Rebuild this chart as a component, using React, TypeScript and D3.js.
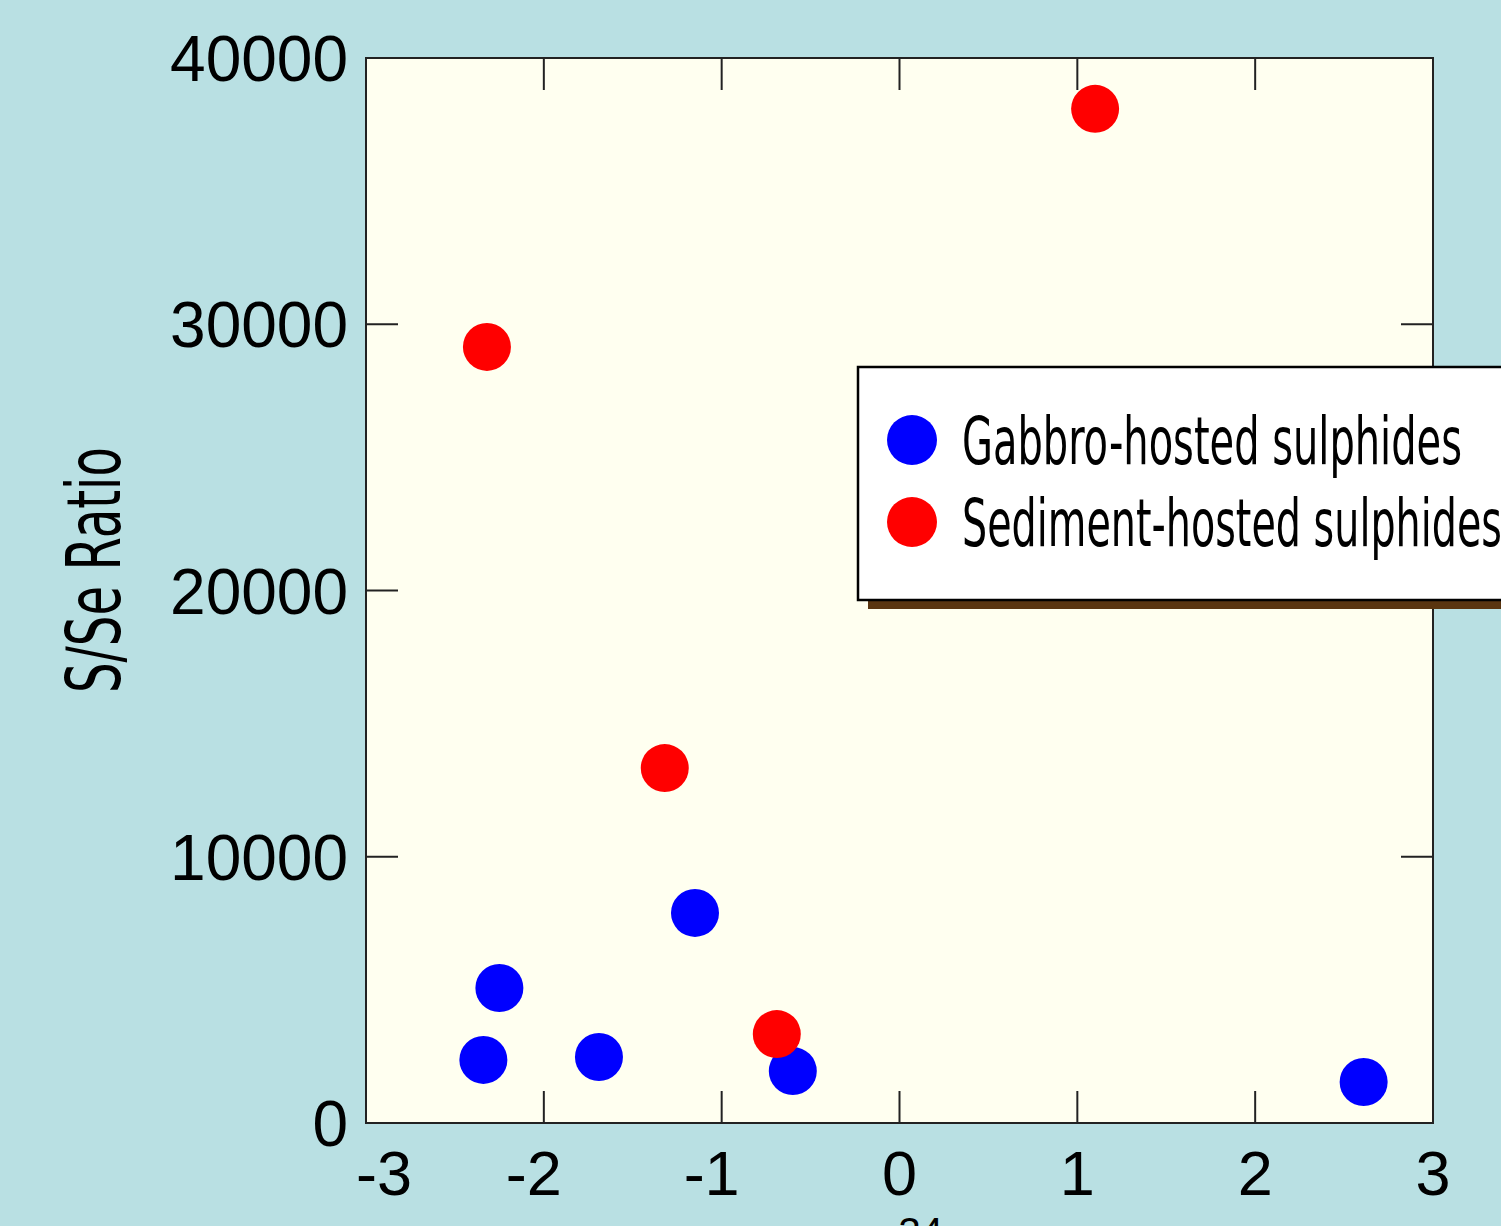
import React, { useRef, useEffect } from "react";
import * as d3 from "d3";

// values
const gabbroX = [-2.34, -2.25, -1.69, -1.15, -0.6, 2.61];
const gabbroY = [2370, 5070, 2480, 7890, 1950, 1540];
const sedimentX = [-2.32, -1.32, -0.69, 1.1];
const sedimentY = [29150, 13330, 3340, 38090];
const xTicks = [-3, -2, -1, 0, 1, 2, 3];
const yTicks = [0, 10000, 20000, 30000, 40000];
const legendLabels = ["Gabbro-hosted sulphides", "Sediment-hosted sulphides"];
const legendColours = ["#0000ff", "#ff0000"];

const App = () => {
    const svgRef = useRef<SVGSVGElement>(null);

    useEffect(() => {
        if (!svgRef.current) return;
        const width = 1501;
        const height = 1226;
        const margin = { top: 58, right: 68, bottom: 103, left: 366 };

        const svg = d3.select(svgRef.current);
        svg.selectAll("*").remove();
        svg.attr("width", width).attr("height", height);

        svg.append("rect")
            .attr("width", width)
            .attr("height", height)
            .attr("fill", "#b9e0e3");

        const x = d3.scaleLinear().domain([-3, 3]).range([margin.left, width - margin.right]);
        const y = d3.scaleLinear().domain([0, 40000]).range([height - margin.bottom, margin.top]);

        const [x0, x1] = x.range();
        const [y0, y1] = y.range();

        svg.append("rect")
            .attr("x", x0)
            .attr("y", y1)
            .attr("width", x1 - x0)
            .attr("height", y0 - y1)
            .attr("fill", "#fffff0");

        const tickLen = 32;
        const frame = svg.append("g").attr("stroke", "#222").attr("stroke-width", 2);

        xTicks.slice(1, -1).forEach(t => {
            frame.append("line").attr("x1", x(t)).attr("x2", x(t)).attr("y1", y0).attr("y2", y0 - tickLen);
            frame.append("line").attr("x1", x(t)).attr("x2", x(t)).attr("y1", y1).attr("y2", y1 + tickLen);
        });
        yTicks.slice(1, -1).forEach(t => {
            frame.append("line").attr("x1", x0).attr("x2", x0 + tickLen).attr("y1", y(t)).attr("y2", y(t));
            frame.append("line").attr("x1", x1).attr("x2", x1 - tickLen).attr("y1", y(t)).attr("y2", y(t));
        });

        frame.append("rect")
            .attr("x", x0)
            .attr("y", y1)
            .attr("width", x1 - x0)
            .attr("height", y0 - y1)
            .attr("fill", "none");

        // tick labels
        svg.append("g")
            .selectAll("text")
            .data(yTicks)
            .enter().append("text")
            .attr("x", x0 - 18)
            .attr("y", d => y(d))
            .attr("dy", "0.36em")
            .attr("text-anchor", "end")
            .style("font-family", "'Liberation Sans', Arial, sans-serif")
            .style("font-size", "64px")
            .style("fill", "black")
            .text(d => d);

        svg.append("g")
            .selectAll("text")
            .data(xTicks)
            .enter().append("text")
            .attr("x", (d, i) => i === 0 ? x(d) + 18 : x(d) + (d < 0 ? -10 : 0))
            .attr("y", y0 + 72)
            .attr("text-anchor", "middle")
            .style("font-family", "'Liberation Sans', Arial, sans-serif")
            .style("font-size", "63px")
            .style("fill", "black")
            .text(d => d);

        // axis titles
        svg.append("text")
            .attr("transform", `translate(120, 570) rotate(-90)`)
            .attr("text-anchor", "middle")
            .attr("textLength", 246)
            .attr("lengthAdjust", "spacingAndGlyphs")
            .style("font-family", "'DejaVu Sans Condensed', 'DejaVu Sans', sans-serif")
            .style("font-stretch", "condensed")
            .style("font-size", "74px")
            .style("fill", "black")
            .text("S/Se Ratio");

        // x title: only its top edge shows at the bottom of the picture
        const xTitle = svg.append("text")
            .attr("x", 864)
            .attr("y", 1270)
            .attr("text-anchor", "start")
            .style("font-family", "'Liberation Sans', Arial, sans-serif")
            .style("font-size", "62px")
            .style("fill", "black");
        xTitle.append("tspan").text("δ");
        xTitle.append("tspan").attr("dy", -24).style("font-size", "40px").text("34");
        xTitle.append("tspan").attr("dy", 30).text("S (‰)");

        // points
        const gabbro = gabbroX.map((v, i) => ({ x: v, y: gabbroY[i] }));
        const sediment = sedimentX.map((v, i) => ({ x: v, y: sedimentY[i] }));

        svg.append("g")
            .selectAll("circle")
            .data(gabbro)
            .enter().append("circle")
            .attr("cx", d => x(d.x))
            .attr("cy", d => y(d.y))
            .attr("r", 24)
            .attr("fill", legendColours[0]);

        svg.append("g")
            .selectAll("circle")
            .data(sediment)
            .enter().append("circle")
            .attr("cx", d => x(d.x))
            .attr("cy", d => y(d.y))
            .attr("r", 24)
            .attr("fill", legendColours[1]);

        // legend
        const legend = svg.append("g").attr("transform", "translate(858,367)");
        legend.append("rect")
            .attr("x", 10)
            .attr("y", 9)
            .attr("width", 700)
            .attr("height", 233)
            .attr("fill", "#5a3510");
        legend.append("rect")
            .attr("x", 0)
            .attr("y", 0)
            .attr("width", 700)
            .attr("height", 233)
            .attr("fill", "white")
            .attr("stroke", "black")
            .attr("stroke-width", 2.5);

        const items = legend.selectAll(".legend")
            .data(legendLabels)
            .enter().append("g")
            .attr("class", "legend")
            .attr("transform", (d, i) => `translate(0,${73 + i * 82})`);

        items.append("circle")
            .attr("cx", 54)
            .attr("cy", 0)
            .attr("r", 25)
            .attr("fill", (d, i) => legendColours[i]);

        items.append("text")
            .attr("x", 104)
            .attr("y", 24)
            .attr("textLength", (d, i) => i === 0 ? 500 : 540)
            .attr("lengthAdjust", "spacingAndGlyphs")
            .style("font-family", "'DejaVu Sans Condensed', 'DejaVu Sans', sans-serif")
            .style("font-stretch", "condensed")
            .style("font-size", "65px")
            .style("fill", "black")
            .text(d => d);
    }, []);

    return (
        <div style={{ position: "absolute", left: 0, top: 0, width: 1501, height: 1226, overflow: "hidden" }}>
            <svg ref={svgRef} style={{ display: "block" }}></svg>
        </div>
    );
};

export default App;
